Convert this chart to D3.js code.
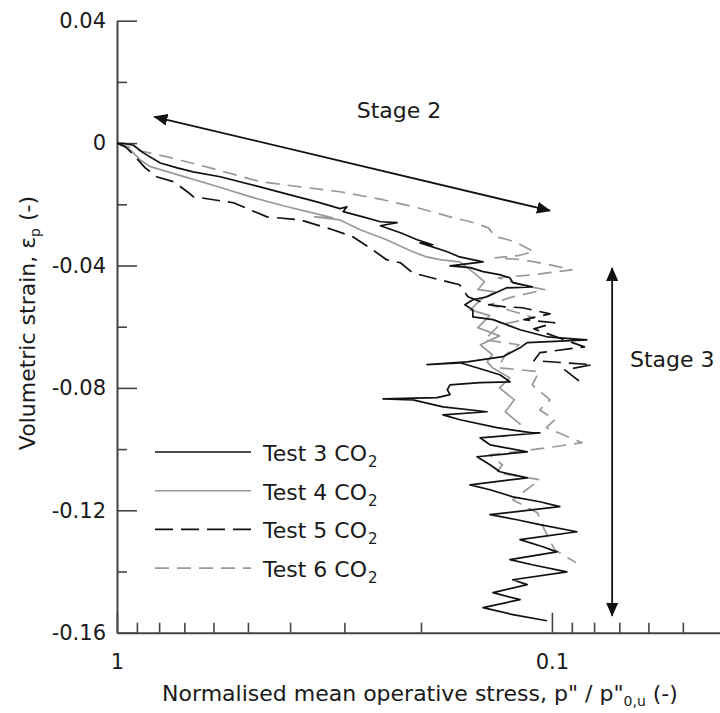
<!DOCTYPE html>
<html>
<head>
<meta charset="utf-8">
<title>Volumetric strain vs normalised mean operative stress</title>
<script src="https://d3js.org/d3.v7.min.js"></script>
<style>
	body { margin: 0; background: #fff; }
	svg { display: block; }
	text { font-family: "DejaVu Sans", Verdana, sans-serif; fill: #1a1a1a; }
</style>
</head>
<body>
<svg id="chart" width="720" height="713"></svg>
<script>
// each point: [p'' / p''0,u , volumetric strain]
var test3 = [[1.0,0],[0.956,-0.0002],[0.917,-0.0007],[0.870,-0.0032],[0.795,-0.0065],[0.727,-0.0081],[0.668,-0.0094],
	[0.579,-0.0110],[0.469,-0.0143],[0.400,-0.0169],[0.347,-0.0192],[0.307,-0.0214],[0.296,-0.0208],[0.302,-0.0224],
	[0.272,-0.0241],[0.248,-0.0257],[0.227,-0.0260],[0.248,-0.0270],[0.223,-0.0293],[0.204,-0.0316],[0.188,-0.0332],
	[0.201,-0.0326],[0.174,-0.0355],[0.163,-0.0372],[0.144,-0.0388],[0.1715,-0.0401],[0.154,-0.0407],[0.144,-0.0420],
	[0.132,-0.0430],[0.125,-0.0440],[0.123,-0.0456],[0.111,-0.0470],[0.127,-0.0473],[0.141,-0.0502],[0.152,-0.0512],
	[0.1585,-0.0528],[0.152,-0.0545],[0.152,-0.0568],[0.1366,-0.0577],[0.1184,-0.0610],[0.1027,-0.0633],[0.0831,-0.0643],
	[0.114,-0.0652],[0.1184,-0.0669],[0.1296,-0.0698],[0.1567,-0.0715],[0.1937,-0.0724],[0.1627,-0.0718],[0.1487,-0.0734],
	[0.1317,-0.0757],[0.1249,-0.0780],[0.1463,-0.0783],[0.1715,-0.0790],[0.174,-0.0806],[0.1715,-0.0822],[0.1837,-0.0832],
	[0.2445,-0.0836],[0.2087,-0.0839],[0.178,-0.0862],[0.141,-0.0878],[0.178,-0.0888],[0.1627,-0.0904],[0.1338,-0.0930],
	[0.111,-0.0947],[0.1066,-0.0947],[0.1463,-0.0963],[0.1388,-0.0986],[0.114,-0.1009],[0.1487,-0.1025],[0.1388,-0.1051],
	[0.1317,-0.1074],[0.114,-0.1094],[0.1543,-0.1117],[0.1388,-0.1133],[0.123,-0.1156],[0.1066,-0.1172],[0.0959,-0.1188],
	[0.1388,-0.1214],[0.1203,-0.1231],[0.1066,-0.1247],[0.0876,-0.1270],[0.1184,-0.1296],[0.1049,-0.1319],[0.0974,-0.1336],
	[0.1249,-0.1361],[0.111,-0.1378],[0.0924,-0.1401],[0.123,-0.1427],[0.114,-0.1443],[0.1366,-0.1469],[0.1184,-0.1492],
	[0.144,-0.1518],[0.123,-0.1541],[0.1027,-0.1561]];

var test4 = [[1.0,0],[0.932,-0.0022],[0.884,-0.0055],[0.838,-0.0077],[0.689,-0.0113],[0.588,-0.0142],[0.486,-0.0178],
	[0.406,-0.0208],[0.365,-0.0224],[0.319,-0.0244],[0.351,-0.0241],[0.307,-0.0251],[0.276,-0.0283],[0.240,-0.0316],
	[0.209,-0.0355],[0.194,-0.0372],[0.181,-0.0381],[0.163,-0.0388],[0.154,-0.0414],[0.143,-0.0453],[0.148,-0.0479],
	[0.135,-0.0486],[0.146,-0.0512],[0.154,-0.0545],[0.139,-0.0564],[0.148,-0.0603],[0.132,-0.0630],[0.146,-0.0659],
	[0.137,-0.0692],[0.141,-0.0715],[0.137,-0.0734],[0.125,-0.0767],[0.132,-0.0800],[0.122,-0.0839],[0.128,-0.0878],
	[0.118,-0.0920]];

var test5 = [[1.0,0],[0.956,-0.0012],[0.917,-0.0038],[0.861,-0.0081],[0.811,-0.0110],[0.742,-0.0126],[0.689,-0.0159],
	[0.668,-0.0175],[0.540,-0.0195],[0.452,-0.0241],[0.379,-0.0251],[0.319,-0.0283],[0.287,-0.0306],[0.258,-0.0349],
	[0.240,-0.0381],[0.223,-0.0391],[0.209,-0.0424],[0.181,-0.0447],[0.163,-0.0463],[0.156,-0.0502],[0.140,-0.0528],
	[0.128,-0.0535],[0.117,-0.0538],[0.101,-0.0558],[0.116,-0.0577],[0.0985,-0.0587],[0.110,-0.0607],[0.0842,-0.0666],
	[0.1066,-0.0685],[0.110,-0.0711],[0.0806,-0.0724],[0.0934,-0.0741],[0.0885,-0.0767],[0.0842,-0.0790]];

var test6 = [[1.0,0],[0.932,-0.0015],[0.870,-0.0028],[0.766,-0.0045],[0.610,-0.0081],[0.469,-0.0126],[0.379,-0.0143],
	[0.307,-0.0159],[0.245,-0.0185],[0.204,-0.0211],[0.1715,-0.0241],[0.154,-0.0257],[0.140,-0.0277],[0.135,-0.0306],
	[0.126,-0.0316],[0.118,-0.0332],[0.110,-0.0355],[0.120,-0.0368],[0.135,-0.0375],[0.117,-0.0381],[0.101,-0.0398],
	[0.090,-0.0414],[0.110,-0.0430],[0.133,-0.0440],[0.118,-0.0463],[0.104,-0.0479],[0.125,-0.0505],[0.139,-0.0528],
	[0.122,-0.0551],[0.110,-0.0571],[0.132,-0.0594],[0.143,-0.0643],[0.119,-0.0659],[0.128,-0.0692],[0.133,-0.0734],
	[0.107,-0.0747],[0.111,-0.0790],[0.101,-0.0839],[0.1066,-0.0872],[0.0985,-0.0904],[0.103,-0.0930],[0.0853,-0.0979],
	[0.103,-0.0996],[0.139,-0.1019],[0.130,-0.1051],[0.134,-0.1077],[0.1066,-0.1100],[0.123,-0.1166],[0.108,-0.1208],
	[0.104,-0.1264],[0.0985,-0.1329],[0.0881,-0.1371]];

var seriesNames = ["Test 3 CO", "Test 4 CO", "Test 5 CO", "Test 6 CO"];

var xMajor = [1, 0.1];
var xMajorLabels = ["1", "0.1"];
var xMinor = [0.9, 0.8, 0.7, 0.6, 0.5, 0.4, 0.3, 0.2, 0.09, 0.08, 0.07, 0.06, 0.05];
var yMajor = [0.04, 0, -0.04, -0.08, -0.12, -0.16];
var yMajorLabels = ["0.04", "0", "-0.04", "-0.08", "-0.12", "-0.16"];
var yMinor = [0.02, -0.02, -0.06, -0.1, -0.14];

// annotation arrows, in data units
var stage2Arrow = [[0.8205, 0.0086], [0.101, -0.0221]];
var stage3Arrow = [[0.0727, -0.0408], [0.0727, -0.1545]];

/*** scales ***/
var x = d3.scaleLog().domain([1, 0.04]).range([117, 725]);
var y = d3.scaleLinear().domain([0.04, -0.16]).range([20.7, 632.7]);

var svg = d3.select("#chart");

var defs = svg.append("defs");
defs.append("marker")
	.attr("id", "head")
	.attr("viewBox", "0 0 14 12")
	.attr("refX", 13)
	.attr("refY", 6)
	.attr("markerUnits", "userSpaceOnUse")
	.attr("markerWidth", 14)
	.attr("markerHeight", 12)
	.attr("orient", "auto-start-reverse")
	.append("path")
	.attr("d", "M0,0 L14,6 L0,12 Z")
	.attr("fill", "#111");

/*** axes ***/
var axisColor = "#444";

svg.append("g")
	.attr("transform", "translate(" + x(1) + ",0)")
	.call(d3.axisLeft(y).tickValues(yMajor).tickSize(-20).tickSizeOuter(0).tickPadding(11)
		.tickFormat(function(d, i) { return yMajorLabels[i]; }));
svg.append("g")
	.attr("transform", "translate(" + x(1) + ",0)")
	.call(d3.axisLeft(y).tickValues(yMinor).tickSize(-10).tickSizeOuter(0).tickFormat(""))
	.select(".domain").remove();

svg.append("g")
	.attr("transform", "translate(0," + y(-0.16) + ")")
	.call(d3.axisBottom(x).tickValues(xMajor).tickSize(-20).tickSizeOuter(0).tickPadding(21)
		.tickFormat(function(d, i) { return xMajorLabels[i]; }));
svg.append("g")
	.attr("transform", "translate(0," + y(-0.16) + ")")
	.call(d3.axisBottom(x).tickValues(xMinor).tickSize(-10).tickSizeOuter(0).tickFormat(""))
	.select(".domain").remove();

svg.selectAll(".domain").attr("stroke", axisColor).attr("stroke-width", 2);
svg.selectAll(".tick line").attr("stroke", axisColor).attr("stroke-width", 1.6);
svg.selectAll(".tick text")
	.attr("font-family", "DejaVu Sans, Verdana, sans-serif")
	.attr("font-size", 21)
	.attr("fill", "#1a1a1a");

/*** data lines ***/
var series = [
	{ data: test3, color: "#111", dash: null },
	{ data: test4, color: "#999", dash: null },
	{ data: test5, color: "#111", dash: "18,8" },
	{ data: test6, color: "#999", dash: "14,8" }
];

var line = d3.line()
	.x(function(d) { return x(d[0]); })
	.y(function(d) { return y(d[1]); });

// draw gray ones first so the black traces sit on top
[1, 3, 2, 0].forEach(function(i) {
	var s = series[i];
	svg.append("path")
		.datum(s.data)
		.attr("fill", "none")
		.attr("stroke", s.color)
		.attr("stroke-width", 1.7)
		.attr("stroke-linejoin", "round")
		.attr("stroke-dasharray", s.dash)
		.attr("d", line);
});

/*** stage arrows ***/
[stage2Arrow, stage3Arrow].forEach(function(a) {
	svg.append("path")
		.datum(a)
		.attr("fill", "none")
		.attr("stroke", "#111")
		.attr("stroke-width", 1.8)
		.attr("marker-start", "url(#head)")
		.attr("marker-end", "url(#head)")
		.attr("d", line);
});

svg.append("text")
	.attr("x", 399).attr("y", 118)
	.attr("text-anchor", "middle")
	.attr("font-size", 22)
	.text("Stage 2");

svg.append("text")
	.attr("x", 630).attr("y", 367)
	.attr("font-size", 22)
	.text("Stage 3");

/*** legend ***/
var legend = svg.append("g");
series.forEach(function(s, i) {
	var ly = 452 + i * 38.7;
	legend.append("line")
		.attr("x1", 155).attr("x2", 251)
		.attr("y1", ly).attr("y2", ly)
		.attr("stroke", s.color)
		.attr("stroke-width", 1.6)
		.attr("stroke-dasharray", s.dash);
	var t = legend.append("text")
		.attr("x", 263).attr("y", ly + 9)
		.attr("font-size", 22);
	t.append("tspan").text(seriesNames[i]);
	t.append("tspan").attr("font-size", 15).attr("dy", 6).attr("dx", 1).text("2");
});

/*** axis titles ***/
var xt = svg.append("text")
	.attr("x", 420).attr("y", 701)
	.attr("text-anchor", "middle")
	.attr("font-size", 22);
xt.append("tspan").text("Normalised mean operative stress, p\" / p\"");
xt.append("tspan").attr("font-size", 14).attr("dy", 5).text("0,u");
xt.append("tspan").attr("dy", -5).text(" (-)");

var yt = svg.append("text")
	.attr("transform", "translate(35,323) rotate(-90)")
	.attr("text-anchor", "middle")
	.attr("font-size", 22);
yt.append("tspan").text("Volumetric strain, \u03b5");
yt.append("tspan").attr("font-size", 14).attr("dy", 5).text("p");
yt.append("tspan").attr("dy", -5).text(" (-)");
</script>
</body>
</html>
